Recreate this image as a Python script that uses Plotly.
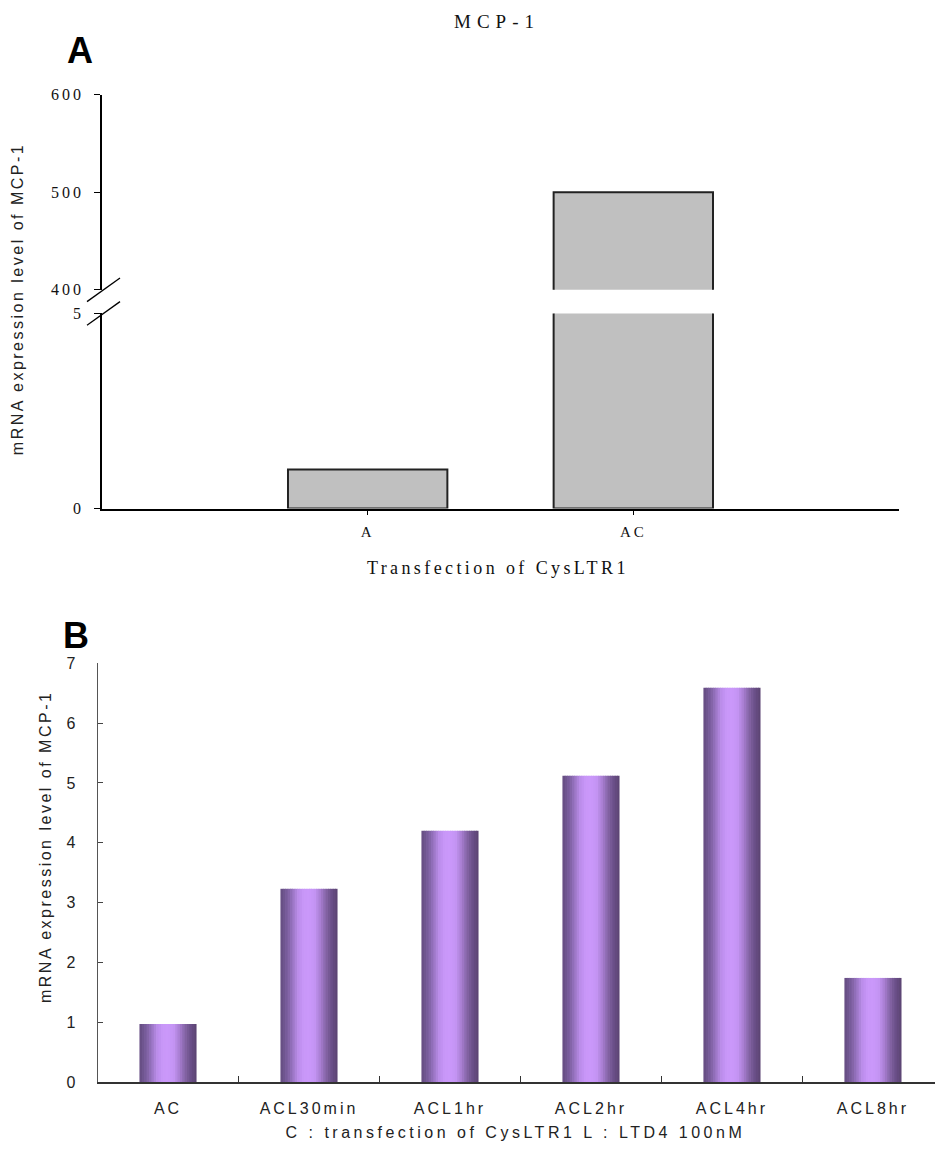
import json
import plotly.graph_objects as go

# ---------------- data ----------------
cats_A = ["A", "AC"]
vals_A = [1.0, 500.0]
ticks_A_low = [0, 5]
ticks_A_high = [400, 500, 600]

cats_B = ["AC", "ACL30min", "ACL1hr", "ACL2hr", "ACL4hr", "ACL8hr"]
vals_B = [0.97, 3.23, 4.20, 5.12, 6.59, 1.74]

title_A = "MCP-1"
xtitle_A = "Transfection of CysLTR1"
ytitle = "mRNA expression level of MCP-1"
xtitle_B = "C : transfection of CysLTR1 L : LTD4 100nM"

# ---------------- geometry helpers ----------------
W, H = 935, 1160
def px(x):
    return x / W
def py(y):
    return 1 - y / H

SERIF = "Liberation Serif"
SANS = "Liberation Sans"

fig = go.Figure()

# Panel A : broken axis -> same data drawn on lower and upper y axes
bar_style = dict(color="#c0c0c0", line=dict(color="#222222", width=2))
fig.add_trace(go.Bar(x=cats_A, y=vals_A, width=0.6, marker=bar_style,
                     xaxis="x", yaxis="y", showlegend=False, hoverinfo="skip"))
fig.add_trace(go.Bar(x=cats_A, y=vals_A, width=0.6, marker=bar_style,
                     xaxis="x", yaxis="y2", showlegend=False, hoverinfo="skip"))

# Panel B : cylinder-like gradient bars built from vertical stripes
stops = [
    (0.0, (100, 76, 128)), (0.1, (118, 90, 152)), (0.2, (148, 113, 188)),
    (0.3, (185, 140, 232)), (0.4, (200, 150, 248)), (0.5, (202, 152, 250)),
    (0.6, (196, 148, 243)), (0.7, (168, 126, 210)), (0.8, (132, 100, 165)),
    (0.9, (106, 79, 136)), (1.0, (90, 66, 112)),
]
def grad(t):
    for (t0, c0), (t1, c1) in zip(stops[:-1], stops[1:]):
        if t0 <= t <= t1:
            f = (t - t0) / (t1 - t0)
            c = [round(a + (b - a) * f) for a, b in zip(c0, c1)]
            return "rgb(%d,%d,%d)" % tuple(c)
    return "rgb(%d,%d,%d)" % stops[-1][1]

NS = 24
BW = 0.405
sw = BW / NS
for k in range(NS):
    t = (k + 0.5) / NS
    w = sw * 1.3 if k < NS - 1 else sw
    fig.add_trace(go.Bar(x=cats_B, y=vals_B, width=w, offset=-BW / 2 + k * sw,
                         marker=dict(color=grad(t), line=dict(width=0)),
                         xaxis="x2", yaxis="y3", showlegend=False, hoverinfo="skip"))

# ---------------- axes ----------------
fig.update_layout(
    width=W, height=H,
    margin=dict(l=0, r=0, t=0, b=0),
    paper_bgcolor="white", plot_bgcolor="rgba(0,0,0,0)",
    barmode="overlay",
    xaxis=dict(domain=[px(102), px(899)], range=[-1, 2], anchor="y",
               showline=True, linecolor="black", linewidth=1.5,
               ticks="outside", ticklen=5, tickcolor="black", tickwidth=1.2,
               showgrid=False, zeroline=False,
               tickfont=dict(family=SERIF, size=15, color="#111"),
               ticklabelstandoff=4),
    yaxis=dict(domain=[py(508), py(310)], range=[0, 5], anchor="x",
               tickvals=ticks_A_low, showline=True, linecolor="black", linewidth=1.5,
               ticks="outside", ticklen=6, tickcolor="black", tickwidth=1.2,
               showgrid=False, zeroline=False,
               tickfont=dict(family=SERIF, size=16, color="#111"),
               ticklabelstandoff=7),
    yaxis2=dict(domain=[py(286), py(88)], range=[400, 600], anchor="x",
                tickvals=ticks_A_high, showline=True, linecolor="black", linewidth=1.5,
                ticks="outside", ticklen=6, tickcolor="black", tickwidth=1.2,
                showgrid=False, zeroline=False,
                tickfont=dict(family=SERIF, size=16, color="#111"),
                ticklabelstandoff=7),
    xaxis2=dict(domain=[px(97.5), 1.0], range=[-0.5, 5.44], anchor="y3",
                showline=True, linecolor="#333", linewidth=1.5,
                ticks="inside", tickson="boundaries", ticklen=6, tickcolor="#333", tickwidth=1,
                showgrid=False, zeroline=False,
                tickfont=dict(family=SANS, size=16, color="#222"),
                ticklabelstandoff=11),
    yaxis3=dict(domain=[py(1090), py(665)], range=[0, 7], dtick=1, anchor="x2",
                showline=True, linecolor="#555", linewidth=1,
                ticks="inside", ticklen=5, tickcolor="#444", tickwidth=1,
                showgrid=False, zeroline=False,
                tickfont=dict(family=SANS, size=16, color="#222"),
                ticklabelstandoff=18),
)

# axis-break marks on panel A
for y0, y1 in [(298, 274), (322, 298)]:
    fig.add_shape(type="line", xref="paper", yref="paper",
                  x0=px(87), y0=py(y0), x1=px(120), y1=py(y1),
                  line=dict(color="black", width=1.3))

# ---------------- texts ----------------
def ann(text, x, y, font, angle=0):
    fig.add_annotation(text=text, xref="paper", yref="paper", x=px(x), y=py(y),
                       xanchor="center", yanchor="middle", showarrow=False,
                       textangle=angle, font=font)

ann("A", 79.5, 43, dict(family=SANS, size=36, color="black", weight="bold"))
ann("B", 76, 637, dict(family=SANS, size=36, color="black", weight="bold"))
ann(title_A, 497, 14, dict(family=SERIF, size=19, color="#111"))
ann(xtitle_A, 498, 568, dict(family=SERIF, size=18, color="#111"))
ann(ytitle, 18, 295, dict(family=SANS, size=16, color="#222"), angle=-90)
ann(ytitle, 46, 851, dict(family=SANS, size=16, color="#222"), angle=-90)
ann(xtitle_B, 515, 1141, dict(family=SANS, size=16, color="#222"))

# letter spacing (the reference uses widely tracked text); page without body margin
ann_ls = {title_A: "6px", xtitle_A: "3.4px", ytitle: "2.5px", xtitle_B: "3.5px"}
tick_ls = {".xtick text": "3px", ".ytick text": "3px", ".y2tick text": "3px",
           ".x2tick text": "3px"}
post = """
(function(){
document.documentElement.style.margin = '0';
document.documentElement.style.overflow = 'hidden';
document.body.style.margin = '0';
document.body.style.padding = '0';
document.body.style.overflow = 'hidden';
var gd = document.getElementById('{plot_id}');
var ann = ANN;
var ticks = TICKS;
function apply(){
  gd.querySelectorAll('text.annotation-text').forEach(function(t){
    var v = ann[t.textContent]; if (v) { t.style.letterSpacing = v; }
  });
  Object.keys(ticks).forEach(function(sel){
    gd.querySelectorAll(sel).forEach(function(t){ t.style.letterSpacing = ticks[sel]; });
  });
}
apply(); setTimeout(apply, 30); setTimeout(apply, 300);
})();
""".replace("ANN", json.dumps(ann_ls)).replace("TICKS", json.dumps(tick_ls))

fig.write_html("out.html", post_script=post, config={"displayModeBar": False})
